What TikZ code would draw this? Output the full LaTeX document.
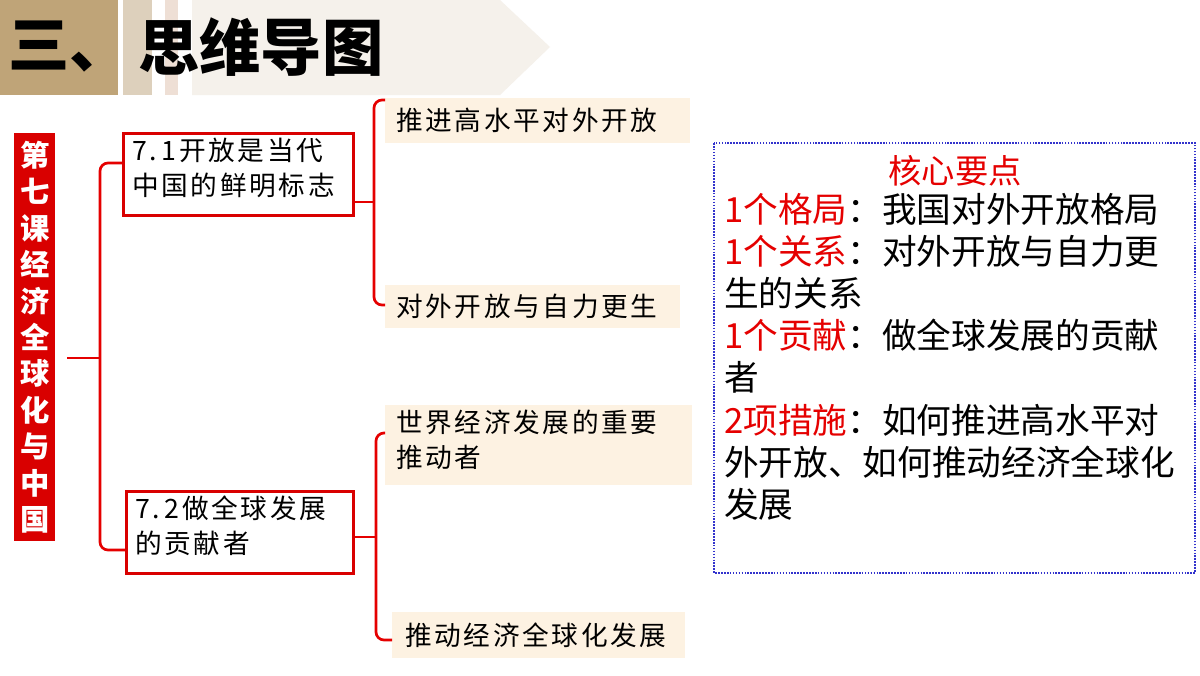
\documentclass[tikz,border=0pt]{standalone}
\usepackage{fontspec}
\setmainfont{Noto Sans CJK SC}
\newfontfamily\leaffont[LetterSpace=10]{Noto Sans CJK SC}
\definecolor{leafc}{HTML}{FDF2E2}
\definecolor{tanc}{HTML}{BFA478}
\definecolor{strip1}{HTML}{DDD0BC}
\definecolor{strip2}{HTML}{EEDFD5}
\definecolor{arrowc}{HTML}{F5F1EB}
\begin{document}
\begin{tikzpicture}[x=0.75pt,y=-0.75pt,
  mainbox/.style={draw=red!85!black,line width=2.2pt,fill=white,anchor=north west,inner sep=0pt,align=left},
  leaf/.style={fill=leafc,anchor=north west,inner sep=0pt,align=left},
  txt/.style={inner sep=0pt,align=left,font=\leaffont\fontsize{20pt}{26pt}\selectfont},
  brk/.style={draw=red!90!black,line width=2pt,rounded corners=6pt}]
\useasboundingbox (0,0) rectangle (1200,675);
\fill[white] (0,0) rectangle (1200,675);
% header
\fill[strip1] (123,0) rectangle (152,95);
\fill[strip2] (165,0) rectangle (178,95);
\fill[arrowc] (192,0) -- (500,0) -- (550,47) -- (500,95) -- (192,95) -- cycle;
\fill[tanc] (0,0) rectangle (118,95);
\node[anchor=west,inner sep=0pt,font=\bfseries\fontsize{46pt}{46pt}\selectfont] (h1) at (8,47) {三、};
\node[anchor=west,inner sep=0pt,font=\bfseries\fontsize{46pt}{46pt}\selectfont] (h2) at (138,47) {思维导图};
% red vertical
\node[fill=red!85!black,anchor=north west,minimum width=30.75pt,minimum height=306pt,inner sep=0pt,text=white,align=center,font=\bfseries\fontsize{22pt}{27.3pt}\selectfont] (v) at (14,133)
 {第\\七\\课\\经\\济\\全\\球\\化\\与\\中\\国};
% main boxes
\node[mainbox,minimum width=172.5pt,minimum height=61.5pt] (b1) at (122,132) {};
\node[txt,anchor=north west] (t1) at (132,138) {7.\,1开放是当代\\中国的鲜明标志};
\node[mainbox,minimum width=170pt,minimum height=61.5pt] (b2) at (125,490) {};
\node[txt,anchor=north west] (t2) at (135,496) {7.\,2做全球发展\\的贡献者};
% brackets
\coordinate (r0) at (67,358);
\draw[brk] (r0) -- (100,358);
\draw[brk] (b1.west|-0,163) -- (100,163) -- (100,550) -- (b2.west|-0,550);
% leaves
\node[leaf,minimum width=228.75pt,minimum height=33.75pt] (l1) at (385,98) {};
\node[txt,anchor=west] at (396,120) {推进高水平对外开放};
\node[leaf,minimum width=221pt,minimum height=32.25pt] (l2) at (385,285) {};
\node[txt,anchor=west] at (396,306) {对外开放与自力更生};
\node[leaf,minimum width=230pt,minimum height=60pt] (l3) at (385,405) {};
\node[txt,anchor=north west] at (396,410) {世界经济发展的重要\\推动者};
\node[leaf,minimum width=219.75pt,minimum height=34.5pt] (l4) at (392,612) {};
\node[txt,anchor=west] at (405,635) {推动经济全球化发展};
\draw[brk] (b1.east|-0,202) -- (374,202);
\draw[brk] (l1.west|-0,100) -- (374,100) -- (374,305) -- (l2.west|-0,305);
\draw[brk] (b2.east|-0,537) -- (376,537);
\draw[brk] (l3.west|-0,433) -- (376,433) -- (376,640) -- (l4.west|-0,640);
% right box
\draw[draw=blue!60!gray,densely dotted,line width=1.2pt] (714,143) rectangle (1195,573);
\node[text=red!90!black,inner sep=0pt,font=\fontsize{25pt}{25pt}\selectfont] (k) at (955,171) {核心要点};
\node[anchor=north west,inner sep=0pt,align=left,font=\fontsize{26pt}{31.6pt}\selectfont] (kt) at (724,193) {%
\textcolor{red!90!black}{1个格局}：我国对外开放格局\\
\textcolor{red!90!black}{1个关系}：对外开放与自力更\\生的关系\\
\textcolor{red!90!black}{1个贡献}：做全球发展的贡献\\者\\
\textcolor{red!90!black}{2项措施}：如何推进高水平对\\外开放、如何推动经济全球化\\发展};
\end{tikzpicture}
\end{document}
